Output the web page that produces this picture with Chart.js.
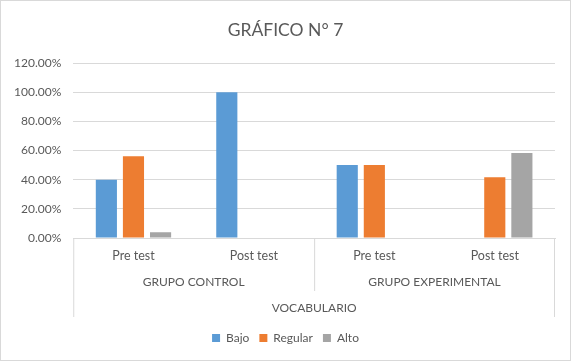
<!DOCTYPE html>
<html>
<head>
<meta charset="utf-8">
<script src="https://cdn.jsdelivr.net/npm/chart.js@4"></script>
<style>
  html, body { margin: 0; padding: 0; background: #fff; }
  #wrap { width: 569px; height: 359px; border: 1px solid #d9d9d9; position: relative; }
</style>
</head>
<body>
<div id="wrap"><canvas id="myChart" width="569" height="359"></canvas></div>
<script>
// chart data
var categories = ['Pre test', 'Post test', 'Pre test', 'Post test']
var groups = ['GRUPO CONTROL', 'GRUPO EXPERIMENTAL']
var outerLabel = 'VOCABULARIO'
var seriesNames = ['Bajo', 'Regular', 'Alto']
var bajo = [0.40, 1.00, 0.50, 0]
var regular = [0.56, 0, 0.50, 0.4167]
var alto = [0.04, 0, 0, 0.5833]
var yTicks = [0, 0.2, 0.4, 0.6, 0.8, 1.0, 1.2]

var textColor = '#595959'
var lineColor = '#d9d9d9'
var font = 'Lato, "Open Sans", sans-serif'

// center title and legend on the whole canvas, not on the padded box
const centerBlocks = {
  id: 'centerBlocks',
  afterLayout(chart) {
    [chart.titleBlock, chart.legend].forEach(b => {
      if (!b) return
      b.left = 0
      b.right = chart.width
      b.width = chart.width
    })
  }
}

// draws the multi-level category labels and separators under the x axis
const groupAxis = {
  id: 'groupAxis',
  afterDraw(chart) {
    const x = chart.scales.x
    const area = chart.chartArea
    const c = chart.ctx
    const half = (x.getPixelForValue(1) - x.getPixelForValue(0)) / 2
    const left = x.getPixelForValue(0) - half
    const mid = x.getPixelForValue(1) + half
    const right = x.getPixelForValue(3) + half
    c.save()
    c.strokeStyle = lineColor
    c.lineWidth = 1
    c.beginPath()
    c.moveTo(left + 0.5, area.bottom); c.lineTo(left + 0.5, area.bottom + 79)
    c.moveTo(mid + 0.5, area.bottom); c.lineTo(mid + 0.5, area.bottom + 53)
    c.moveTo(right - 0.5, area.bottom); c.lineTo(right - 0.5, area.bottom + 79)
    c.stroke()
    c.fillStyle = textColor
    c.font = '12px ' + font
    c.textAlign = 'center'
    c.textBaseline = 'middle'
    c.fillText(groups[0], (left + mid) / 2, area.bottom + 44)
    c.fillText(groups[1], (mid + right) / 2, area.bottom + 44)
    c.fillText(outerLabel, (left + right) / 2, area.bottom + 70)
    c.restore()
  }
}

const ctx = document.getElementById('myChart')
const chart1 = new Chart(ctx, {
  type: 'bar',
  data: {
    labels: categories,
    datasets: [{
      label: seriesNames[0],
      data: bajo,
      backgroundColor: '#5b9bd5'
    }, {
      label: seriesNames[1],
      data: regular,
      backgroundColor: '#ed7d31'
    }, {
      label: seriesNames[2],
      data: alto,
      backgroundColor: '#a5a5a5'
    }]
  },
  options: {
    responsive: false,
    animation: false,
    categoryPercentage: 0.675,
    barPercentage: 0.78,
    layout: { padding: { left: 1, right: 15, top: 12, bottom: 6 } },
    plugins: {
      title: {
        display: true,
        text: 'GRÁFICO N° 7',
        color: textColor,
        font: { family: font, size: 17.5, weight: 'normal' },
        padding: { top: 7, bottom: 22 }
      },
      legend: {
        position: 'bottom',
        labels: {
          color: textColor,
          font: { family: font, size: 12 },
          boxWidth: 8,
          boxHeight: 8,
          padding: 10
        }
      },
      tooltip: { enabled: false }
    },
    scales: {
      x: {
        grid: { display: false, drawTicks: false },
        border: { color: lineColor },
        ticks: { color: textColor, font: { family: font, size: 12.5 }, padding: 10 },
        afterFit: (scale) => { scale.height = 84 }
      },
      y: {
        min: 0,
        max: 1.2,
        afterBuildTicks: (scale) => { scale.ticks = yTicks.map(v => ({ value: v })) },
        grid: { color: lineColor, drawTicks: false },
        border: { display: false },
        ticks: {
          color: textColor,
          font: { family: font, size: 12 },
          padding: 12,
          callback: (v) => (v * 100).toFixed(2) + '%'
        }
      }
    }
  },
  plugins: [centerBlocks, groupAxis]
})
</script>
</body>
</html>
